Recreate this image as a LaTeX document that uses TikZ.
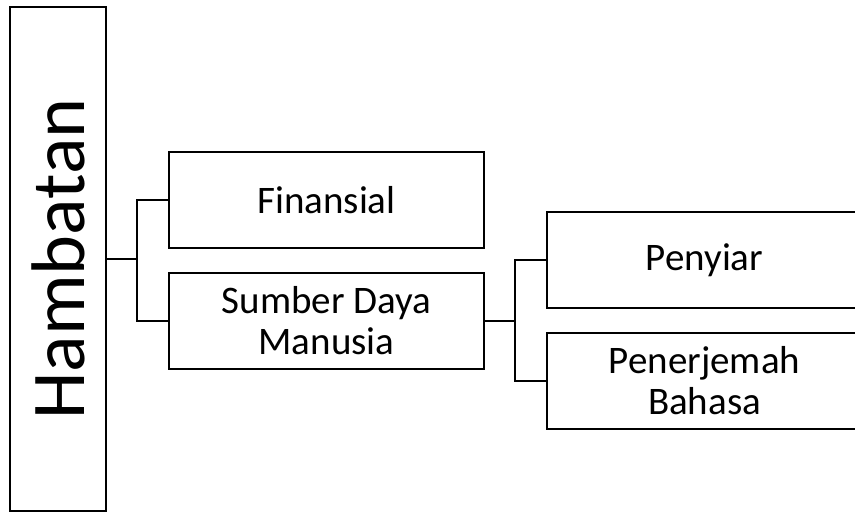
\documentclass[tikz,border=0pt]{standalone}
\usepackage{fontspec}
\setmainfont{Carlito}
\begin{document}
\begin{tikzpicture}[x=1pt,y=-1pt,
  every node/.style={outer sep=0pt, inner sep=0pt},
  conn/.style={draw, line width=2pt},
  box/.style={draw, line width=2pt, minimum width=315pt, minimum height=96pt,
    align=center, font=\fontsize{39}{41}\selectfont},
  bigbox/.style={draw, line width=2pt, minimum width=96pt, minimum height=504pt,
    font=\fontsize{76}{80}\selectfont}]
\useasboundingbox (0,0) rectangle (855,512);
\clip (0,0) rectangle (855,512);
\node[bigbox] (ham) at (58,259) {\rotatebox{90}{Hambatan}};
\node[box] (fin) at (326.5,200) {Finansial};
\node[box] (sdm) at (326.5,320.5) {Sumber Daya\\Manusia};
\node[box] (pny) at (704.5,260) {Penyiar};
\node[box] (pnj) at (704.5,380.5) {Penerjemah\\Bahasa};
\coordinate (j1) at (137,259);
\coordinate (j2) at (515,320.5);
\draw[conn] (ham.east) -- (j1);
\draw[conn] (fin.west) -| (j1) |- (sdm.west);
\draw[conn] (sdm.east) -- (j2);
\draw[conn] (pny.west) -| (j2) |- (pnj.west);
\end{tikzpicture}
\end{document}
